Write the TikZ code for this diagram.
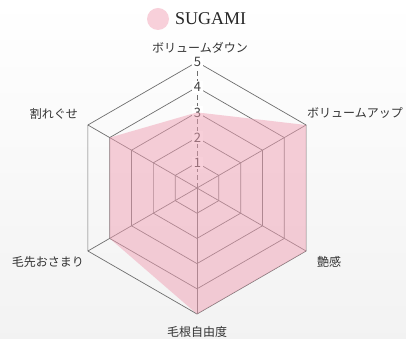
\documentclass[tikz,border=0pt]{standalone}
\usepackage{fontspec}
\setmainfont{Liberation Serif}
\newfontfamily\jpfont{Noto Sans CJK JP}
\definecolor{sakura}{RGB}{240,160,180}
\definecolor{gridgray}{RGB}{110,110,110}
\begin{document}
\begin{tikzpicture}[x=1pt,y=1pt,>=stealth]
        \def\r{25.2}
        \useasboundingbox (-197,-151) rectangle (209,188);
        \shade[top color=white,bottom color=black!5] (-197,-151) rectangle (209,188);
        % grid
        \foreach \k in {1,...,5}
        \draw[gridgray,line width=0.7pt] (90:\k*\r)--(30:\k*\r)--(-30:\k*\r)--(-90:\k*\r)
        --(-150:\k*\r)--(150:\k*\r)--cycle;
        \foreach \a in {30,-30,-90,-150,150}
        \draw[gridgray,line width=0.7pt] (0,0)--(\a:5*\r);
        \draw[gridgray,line width=0.7pt,dash pattern=on 5pt off 3pt] (0,0)--(90:5*\r);
        \foreach \k in {1,...,5}
        \node[fill=white,inner sep=1.5pt,text=black!75,font=\jpfont\fontsize{13}{13}\selectfont] (n\k) at ([xshift=0.5pt]90:\k*\r) {\k};
        % data
        \fill[sakura,fill opacity=0.5] (90:3*\r)--(30:5*\r)--(-30:5*\r)--(-90:5*\r)
        --(-150:4*\r)--(150:4*\r)--cycle;
        % labels
        \begin{scope}[every node/.style={text=black!80,font=\jpfont\fontsize{12}{12}\selectfont,inner sep=0pt}]
            \node (down) at (3,140) {ボリュームダウン};
            \node (up) at (158,75) {ボリュームアップ};
            \node (tsuya) at (132,-74) {艶感};
            \node (root) at (0,-144) {毛根自由度};
            \node (tip) at (-149,-74) {毛先おさまり};
            \node (wareguse) at (-143,74) {割れぐせ};
        \end{scope}
        % legend
        \fill[sakura!50!white] (-39,169) circle (11);
        \node[anchor=west,inner sep=0pt,text=black!85,font=\fontsize{18}{18}\selectfont] (sugami) at (-22,169) {SUGAMI};
    \end{tikzpicture}
\end{document}
